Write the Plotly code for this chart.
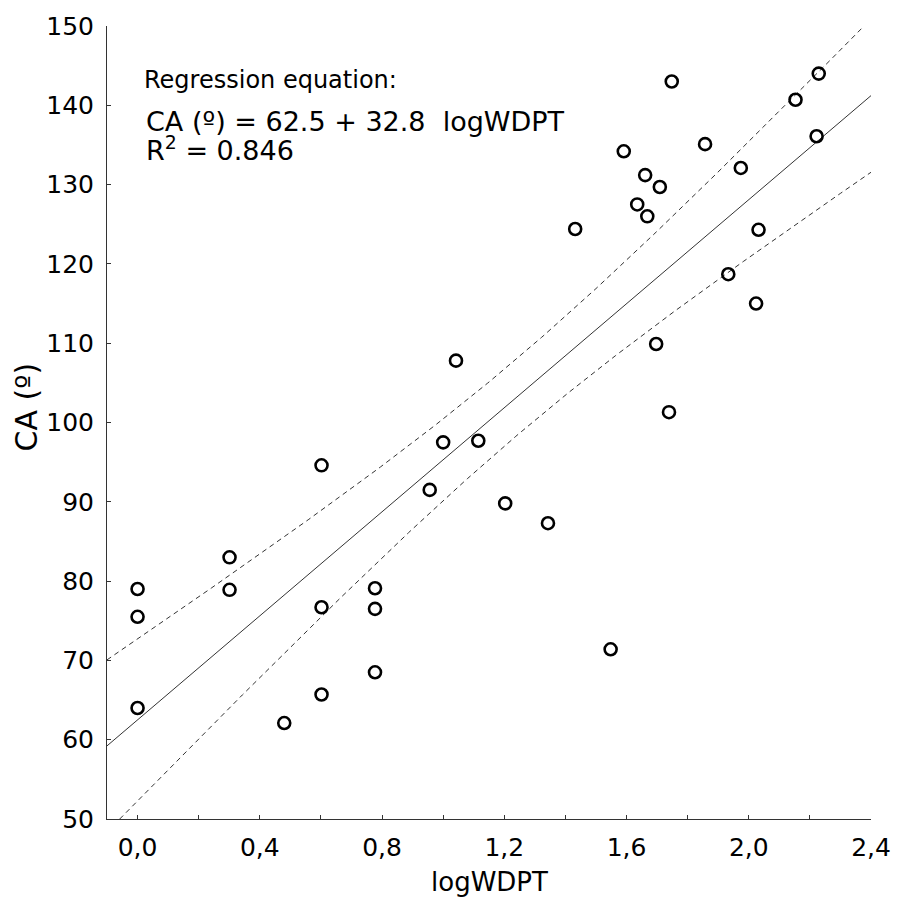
import numpy as np
import plotly.graph_objects as go

# Samples: log of water drop penetration time and measured contact angle
log_wdpt = [0.0, 0.0, 0.0, 0.301, 0.301, 0.48, 0.602, 0.602, 0.602,
            0.777, 0.777, 0.777, 0.956, 1.0, 1.042, 1.115, 1.203, 1.343,
            1.432, 1.548, 1.591, 1.635, 1.661, 1.668, 1.697, 1.709, 1.739,
            1.748, 1.857, 1.933, 1.974, 2.024, 2.032, 2.153, 2.222, 2.229]
contact_angle = [79.0, 75.5, 64.0, 83.0, 78.9, 62.1, 94.6, 76.7, 65.7,
                 79.1, 76.5, 68.5, 91.5, 97.5, 107.8, 97.7, 89.8, 87.3,
                 124.4, 71.4, 134.2, 127.5, 131.2, 126.0, 109.9, 129.7, 101.3,
                 143.0, 135.1, 118.7, 132.1, 115.0, 124.3, 140.7, 136.1, 144.0]

# Fitted regression
intercept = 62.5
slope = 32.8
r_squared = 0.846
t_975 = 2.032  # Student t, 95 %, n-2 degrees of freedom

x_ticks = [0.0, 0.4, 0.8, 1.2, 1.6, 2.0, 2.4]
y_ticks = [50, 60, 70, 80, 90, 100, 110, 120, 130, 140, 150]

FONT = "DejaVu Sans"
AXIS_COLOR = "#333333"

x = np.array(log_wdpt)
y = np.array(contact_angle)
n = len(x)
resid = y - (intercept + slope * x)
s = np.sqrt(np.sum(resid ** 2) / (n - 2))
xbar = x.mean()
sxx = np.sum((x - xbar) ** 2)

xg = np.linspace(-0.1, 2.4, 300)
fit = intercept + slope * xg
half = t_975 * s * np.sqrt(1.0 / n + (xg - xbar) ** 2 / sxx)

fig = go.Figure()

line_style = dict(color=AXIS_COLOR, width=1)
dash_style = dict(color=AXIS_COLOR, width=1, dash="5px,4px")

fig.add_trace(go.Scatter(x=xg, y=fit + half, mode="lines", line=dash_style, hoverinfo="skip"))
fig.add_trace(go.Scatter(x=xg, y=fit - half, mode="lines", line=dash_style, hoverinfo="skip"))
fig.add_trace(go.Scatter(x=xg, y=fit, mode="lines", line=line_style, hoverinfo="skip"))

fig.add_trace(go.Scatter(
    x=log_wdpt, y=contact_angle, mode="markers",
    marker=dict(symbol="circle-open", size=12, color="black",
                line=dict(width=2.6, color="black")),
))

axis_common = dict(
    showline=True, linecolor=AXIS_COLOR, linewidth=1,
    ticks="inside", ticklen=4, tickcolor=AXIS_COLOR, tickwidth=1,
    showgrid=False, zeroline=False,
    tickfont=dict(family=FONT, size=25, color="black"),
)

fig.update_layout(
    width=903, height=901,
    margin=dict(l=107, r=22, t=23, b=82, pad=0),
    paper_bgcolor="white", plot_bgcolor="white",
    showlegend=False,
    separators=",.",
    font=dict(family=FONT, color="black"),
    xaxis=dict(range=[-0.1, 2.4], tickmode="array", tickvals=x_ticks,
               ticktext=[f"{v:.1f}".replace(".", ",") for v in x_ticks],
               minor=dict(tickmode="linear", tick0=0, dtick=0.2, ticks="inside",
                          ticklen=4, tickcolor=AXIS_COLOR, showgrid=False),
               ticklabelstandoff=6,
               **axis_common),
    yaxis=dict(range=[50, 150], tickmode="array", tickvals=y_ticks,
               ticklabelstandoff=7,
               **axis_common),
)

annotations = [
    dict(text="Regression equation:", x=0.046, y=0.932, size=24),
    dict(text=f"CA (º) = {intercept} + {slope}  logWDPT", x=0.049, y=0.880, size=27),
    dict(text=f"R<sup>2</sup> = {r_squared}", x=0.049, y=0.845, size=27),
]
for a in annotations:
    fig.add_annotation(text=a["text"], xref="paper", yref="paper", x=a["x"], y=a["y"],
                       xanchor="left", yanchor="middle", showarrow=False,
                       font=dict(family=FONT, size=a["size"], color="black"))

fig.add_annotation(text="logWDPT", xref="paper", yref="paper", x=0.5, y=-0.08,
                   xanchor="center", yanchor="middle", showarrow=False,
                   font=dict(family=FONT, size=26, color="black"))
fig.add_annotation(text="CA (º)", xref="paper", yref="paper", x=-0.106, y=0.519,
                   xanchor="center", yanchor="middle", showarrow=False, textangle=-90,
                   font=dict(family=FONT, size=30, color="black"))

fig.write_html("out.html")
